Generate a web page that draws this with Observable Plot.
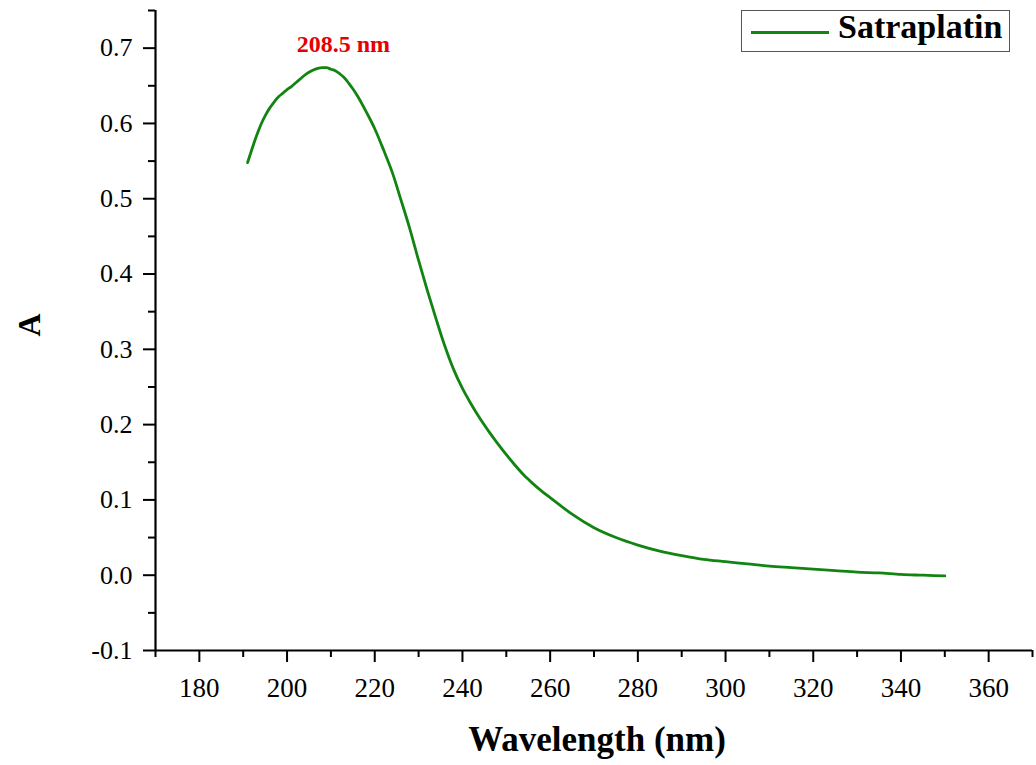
<!DOCTYPE html>
<html>
<head>
<meta charset="utf-8">
<script src="https://cdn.jsdelivr.net/npm/d3@7"></script>
<script src="https://cdn.jsdelivr.net/npm/@observablehq/plot@0.6"></script>
<style>
  html, body { margin: 0; padding: 0; background: #fff; }
  #wrap { position: relative; width: 1036px; height: 765px; font-family: "Liberation Serif", "Times New Roman", serif; }
  #legend { position: absolute; left: 741px; top: 10px; width: 267px; height: 40px; border: 1.5px solid #555; background: #fff; }
  #legend .sw { position: absolute; left: 9px; top: 20px; width: 78px; height: 0; border-top: 3px solid #118411; }
  #legend .lb { position: absolute; left: 96px; top: -3px; font-size: 34px; font-weight: bold; color: #000; white-space: nowrap; }
</style>
</head>
<body>
<div id="wrap"><div id="legend"><div class="sw"></div><div class="lb">Satraplatin</div></div></div>
<script>
const seriesName = "Satraplatin";
const wavelength = [191,192,193,194,195,196,197,198,199,200,201,202,203,204,205,206,207,208,209,210,211,212,213,214,215,216,218,220,222,224,226,228,230,232,234,236,238,240,242,244,246,248,250,252,254,256,258,260,262,265,270,275,280,285,290,295,300,305,310,315,320,325,330,335,340,345,350];
const absorbance = [0.548,0.566,0.583,0.598,0.610,0.620,0.628,0.635,0.640,0.645,0.649,0.654,0.659,0.664,0.668,0.671,0.673,0.674,0.674,0.672,0.670,0.666,0.661,0.654,0.646,0.637,0.616,0.593,0.565,0.535,0.498,0.460,0.418,0.378,0.340,0.304,0.273,0.248,0.227,0.208,0.191,0.175,0.160,0.146,0.133,0.122,0.112,0.103,0.094,0.081,0.063,0.050,0.040,0.032,0.026,0.021,0.018,0.015,0.012,0.010,0.008,0.006,0.004,0.003,0.001,0.000,-0.001];
const peak = [{x: 208.5, y: 0.674, label: "208.5 nm"}];
const xDomain = [170, 370];
const yDomain = [-0.1, 0.75];
const xTicks = [180,200,220,240,260,280,300,320,340,360];
const xMinor = [170,190,210,230,250,270,290,310,330,350,370];
const yTicks = [-0.1,0,0.1,0.2,0.3,0.4,0.5,0.6,0.7];
const yMinor = [-0.05,0.05,0.15,0.25,0.35,0.45,0.55,0.65,0.75];
const xLabel = "Wavelength (nm)";
const yLabel = "A";

const data = wavelength.map((w, i) => ({w, a: absorbance[i]}));
const green = "#118411";

const chart = Plot.plot({
  width: 1036,
  height: 765,
  marginLeft: 155,
  marginRight: 4,
  marginTop: 10,
  marginBottom: 115,
  style: {fontFamily: '"Liberation Serif", "Times New Roman", serif', background: "transparent", color: "#000"},
  x: {domain: xDomain},
  y: {domain: yDomain},
  marks: [
    Plot.axisX({ticks: xTicks, tickSize: 12, tickPadding: 15, fontSize: 27, strokeWidth: 2, tickFormat: d => String(d), label: null}),
    Plot.axisX({ticks: xMinor, tickSize: 7, text: null, strokeWidth: 2, label: null}),
    Plot.axisY({ticks: yTicks, tickSize: 12, tickPadding: 11, fontSize: 26, strokeWidth: 2, tickFormat: d => d.toFixed(1), label: null}),
    Plot.axisY({ticks: yMinor, tickSize: 7, text: null, strokeWidth: 2, label: null}),
    Plot.ruleX([xDomain[0]], {stroke: "#000", strokeWidth: 2.2}),
    Plot.ruleY([yDomain[0]], {stroke: "#000", strokeWidth: 2.2}),
    Plot.line(data, {x: "w", y: "a", stroke: green, strokeWidth: 2.8, curve: "monotone-x"}),
    Plot.text(peak, {x: "x", y: "y", text: "label", dx: 19, dy: -23, fill: "#e60000", fontWeight: "bold", fontSize: 24}),
    Plot.text([xLabel], {frameAnchor: "bottom", text: d => d, dx: 3, dy: 100, fontSize: 35, fontWeight: "bold", fill: "#000"}),
    Plot.text([yLabel], {frameAnchor: "left", text: d => d, dx: -126, dy: 6, rotate: -90, fontSize: 32, fontWeight: "bold", fill: "#000"})
  ]
});
document.getElementById("wrap").prepend(chart);
</script>
</body>
</html>
